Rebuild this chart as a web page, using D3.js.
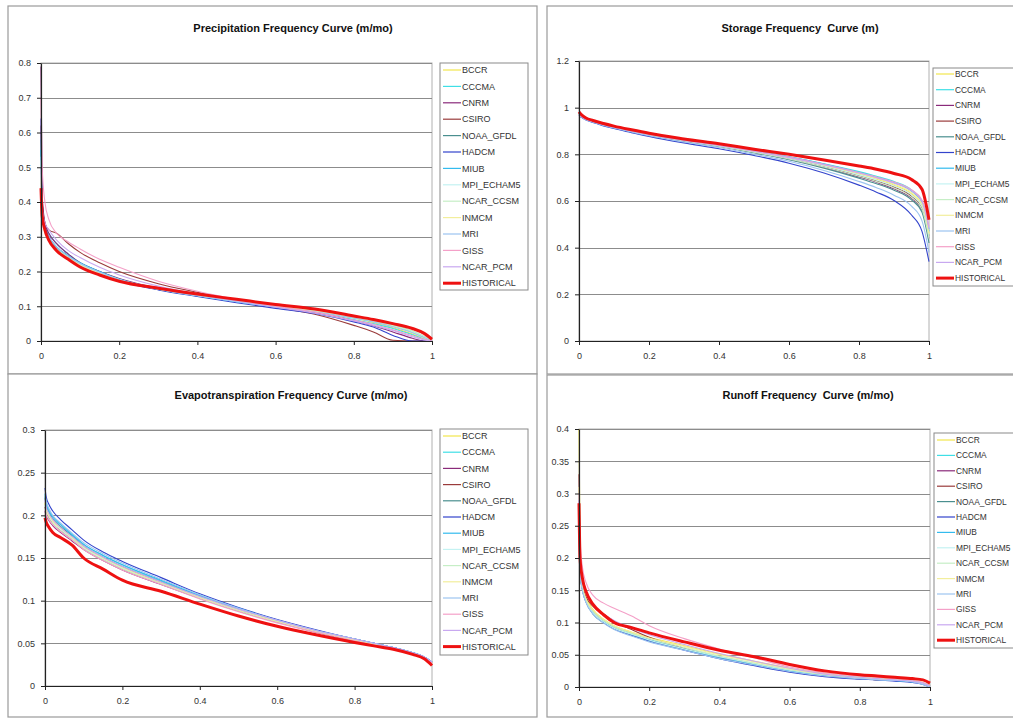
<!DOCTYPE html>
<html>
<head>
<meta charset="utf-8">
<script src="https://cdn.jsdelivr.net/npm/d3@7"></script>
<style>
  body { margin: 0; background: #fff; }
  svg { font-family: "Liberation Sans", Arial, sans-serif; display: block; }
  .title { white-space: pre; }
</style>
</head>
<body>
<svg id="chart" width="1013" height="719"></svg>
<script>
const seriesNames = ["BCCR", "CCCMA", "CNRM", "CSIRO", "NOAA_GFDL", "HADCM", "MIUB",
  "MPI_ECHAM5", "NCAR_CCSM", "INMCM", "MRI", "GISS", "NCAR_PCM", "HISTORICAL"];

const seriesColors = ["#f2e64c", "#3fdfe6", "#8a2a7a", "#9a3b3b", "#4a8f8f", "#3344cc", "#33bbee",
  "#c4f2f2", "#c6eec6", "#f2ee9c", "#9cc4f0", "#f4a0c8", "#c8a8f0", "#ee1111"];

// exceedance probability (x) shared by all curves
const prob = [0, 0.003, 0.01, 0.02, 0.04, 0.07, 0.1, 0.15, 0.2, 0.3, 0.4, 0.5, 0.6, 0.7, 0.8, 0.85, 0.9, 0.95, 0.98, 1];

// one row per series, same order as seriesNames
const precipValues = [
  [0.50, 0.38, 0.33, 0.30, 0.27, 0.24, 0.22, 0.195, 0.175, 0.150, 0.132, 0.116, 0.100, 0.086, 0.066, 0.053, 0.038, 0.020, 0.008, 0],
  [0.58, 0.40, 0.33, 0.31, 0.28, 0.25, 0.225, 0.200, 0.178, 0.150, 0.130, 0.113, 0.097, 0.082, 0.062, 0.050, 0.036, 0.018, 0.006, 0],
  [0.79, 0.42, 0.34, 0.31, 0.28, 0.25, 0.225, 0.200, 0.180, 0.152, 0.133, 0.115, 0.100, 0.083, 0.058, 0.044, 0.026, 0.008, 0, 0],
  [0.62, 0.40, 0.34, 0.32, 0.31, 0.28, 0.255, 0.225, 0.200, 0.165, 0.140, 0.118, 0.097, 0.077, 0.045, 0.026, 0.002, 0, 0, 0],
  [0.55, 0.38, 0.33, 0.30, 0.27, 0.245, 0.220, 0.195, 0.175, 0.148, 0.130, 0.114, 0.099, 0.086, 0.069, 0.059, 0.046, 0.028, 0.012, 0],
  [0.64, 0.40, 0.33, 0.30, 0.265, 0.235, 0.215, 0.192, 0.173, 0.147, 0.128, 0.110, 0.094, 0.079, 0.055, 0.040, 0.016, 0, 0, 0],
  [0.55, 0.38, 0.32, 0.30, 0.27, 0.245, 0.225, 0.200, 0.178, 0.150, 0.130, 0.113, 0.098, 0.085, 0.067, 0.056, 0.043, 0.025, 0.010, 0],
  [0.48, 0.36, 0.32, 0.29, 0.26, 0.24, 0.22, 0.195, 0.176, 0.150, 0.131, 0.115, 0.100, 0.086, 0.068, 0.057, 0.044, 0.027, 0.012, 0],
  [0.52, 0.37, 0.32, 0.295, 0.265, 0.242, 0.222, 0.197, 0.177, 0.150, 0.132, 0.116, 0.101, 0.087, 0.069, 0.058, 0.045, 0.029, 0.014, 0],
  [0.47, 0.36, 0.31, 0.29, 0.262, 0.238, 0.218, 0.194, 0.175, 0.149, 0.131, 0.115, 0.100, 0.086, 0.067, 0.056, 0.042, 0.024, 0.009, 0],
  [0.53, 0.38, 0.32, 0.30, 0.27, 0.244, 0.223, 0.198, 0.177, 0.149, 0.130, 0.113, 0.098, 0.084, 0.066, 0.055, 0.041, 0.024, 0.010, 0],
  [0.70, 0.50, 0.40, 0.35, 0.31, 0.285, 0.265, 0.235, 0.212, 0.172, 0.143, 0.120, 0.100, 0.083, 0.060, 0.048, 0.032, 0.015, 0.005, 0],
  [0.50, 0.38, 0.34, 0.32, 0.29, 0.26, 0.24, 0.212, 0.190, 0.158, 0.135, 0.115, 0.097, 0.080, 0.058, 0.045, 0.030, 0.012, 0.003, 0],
  [0.44, 0.36, 0.32, 0.29, 0.26, 0.235, 0.213, 0.190, 0.172, 0.152, 0.135, 0.120, 0.105, 0.092, 0.072, 0.062, 0.050, 0.036, 0.022, 0.005]
];

const storageValues = [
  [0.975, 0.970, 0.962, 0.952, 0.942, 0.928, 0.917, 0.900, 0.885, 0.860, 0.838, 0.812, 0.785, 0.752, 0.715, 0.693, 0.668, 0.630, 0.580, 0.46],
  [0.978, 0.972, 0.963, 0.953, 0.943, 0.930, 0.918, 0.902, 0.887, 0.862, 0.841, 0.816, 0.790, 0.760, 0.726, 0.706, 0.683, 0.648, 0.600, 0.48],
  [0.970, 0.966, 0.958, 0.949, 0.939, 0.925, 0.914, 0.898, 0.883, 0.857, 0.835, 0.808, 0.779, 0.744, 0.703, 0.680, 0.652, 0.612, 0.560, 0.44],
  [0.975, 0.969, 0.960, 0.950, 0.940, 0.927, 0.916, 0.899, 0.884, 0.858, 0.836, 0.810, 0.782, 0.748, 0.708, 0.686, 0.660, 0.620, 0.570, 0.45],
  [0.972, 0.967, 0.959, 0.950, 0.940, 0.926, 0.915, 0.898, 0.883, 0.857, 0.834, 0.807, 0.777, 0.741, 0.698, 0.674, 0.646, 0.605, 0.552, 0.42],
  [0.968, 0.963, 0.956, 0.947, 0.937, 0.922, 0.911, 0.893, 0.877, 0.849, 0.824, 0.795, 0.762, 0.720, 0.668, 0.638, 0.602, 0.540, 0.470, 0.34],
  [0.976, 0.971, 0.962, 0.952, 0.942, 0.929, 0.918, 0.901, 0.886, 0.861, 0.840, 0.815, 0.789, 0.758, 0.722, 0.702, 0.678, 0.642, 0.594, 0.47],
  [0.974, 0.968, 0.960, 0.951, 0.941, 0.927, 0.916, 0.899, 0.884, 0.859, 0.837, 0.811, 0.783, 0.750, 0.712, 0.690, 0.664, 0.626, 0.576, 0.45],
  [0.973, 0.968, 0.960, 0.950, 0.940, 0.926, 0.915, 0.898, 0.883, 0.858, 0.835, 0.809, 0.780, 0.746, 0.706, 0.683, 0.656, 0.616, 0.564, 0.44],
  [0.975, 0.970, 0.961, 0.951, 0.941, 0.928, 0.917, 0.900, 0.885, 0.860, 0.839, 0.813, 0.786, 0.754, 0.718, 0.697, 0.672, 0.636, 0.588, 0.46],
  [0.970, 0.965, 0.957, 0.948, 0.938, 0.924, 0.913, 0.896, 0.880, 0.853, 0.829, 0.801, 0.770, 0.731, 0.684, 0.657, 0.625, 0.578, 0.515, 0.38],
  [0.977, 0.971, 0.962, 0.952, 0.942, 0.929, 0.918, 0.901, 0.886, 0.861, 0.839, 0.814, 0.788, 0.757, 0.722, 0.703, 0.681, 0.648, 0.604, 0.49],
  [0.976, 0.970, 0.961, 0.951, 0.941, 0.928, 0.917, 0.900, 0.885, 0.860, 0.838, 0.813, 0.786, 0.755, 0.720, 0.700, 0.677, 0.644, 0.598, 0.48],
  [0.982, 0.976, 0.966, 0.956, 0.945, 0.932, 0.921, 0.905, 0.890, 0.866, 0.845, 0.822, 0.800, 0.776, 0.750, 0.736, 0.718, 0.692, 0.650, 0.52]
];

const evapValues = [
  [0.215, 0.208, 0.200, 0.193, 0.185, 0.174, 0.163, 0.150, 0.139, 0.121, 0.104, 0.089, 0.076, 0.064, 0.054, 0.049, 0.044, 0.038, 0.033, 0.027],
  [0.225, 0.216, 0.207, 0.199, 0.190, 0.178, 0.166, 0.153, 0.142, 0.123, 0.106, 0.090, 0.077, 0.065, 0.055, 0.050, 0.045, 0.039, 0.034, 0.028],
  [0.205, 0.200, 0.194, 0.188, 0.180, 0.170, 0.160, 0.147, 0.136, 0.119, 0.103, 0.088, 0.075, 0.064, 0.054, 0.049, 0.044, 0.038, 0.033, 0.027],
  [0.210, 0.204, 0.197, 0.190, 0.182, 0.172, 0.161, 0.148, 0.137, 0.120, 0.103, 0.088, 0.075, 0.063, 0.053, 0.049, 0.044, 0.038, 0.033, 0.027],
  [0.220, 0.212, 0.204, 0.196, 0.187, 0.176, 0.164, 0.151, 0.140, 0.122, 0.105, 0.090, 0.076, 0.065, 0.055, 0.050, 0.045, 0.039, 0.034, 0.028],
  [0.232, 0.222, 0.213, 0.205, 0.195, 0.183, 0.171, 0.157, 0.146, 0.127, 0.108, 0.092, 0.078, 0.066, 0.055, 0.050, 0.045, 0.039, 0.034, 0.028],
  [0.222, 0.214, 0.205, 0.198, 0.189, 0.177, 0.166, 0.153, 0.142, 0.124, 0.106, 0.091, 0.077, 0.065, 0.055, 0.050, 0.045, 0.039, 0.034, 0.028],
  [0.212, 0.206, 0.199, 0.192, 0.184, 0.173, 0.162, 0.149, 0.138, 0.120, 0.104, 0.089, 0.076, 0.064, 0.054, 0.049, 0.044, 0.038, 0.033, 0.027],
  [0.208, 0.202, 0.196, 0.190, 0.182, 0.172, 0.161, 0.148, 0.137, 0.120, 0.103, 0.088, 0.075, 0.064, 0.054, 0.049, 0.044, 0.038, 0.033, 0.027],
  [0.214, 0.207, 0.200, 0.193, 0.185, 0.174, 0.163, 0.150, 0.139, 0.121, 0.104, 0.089, 0.076, 0.064, 0.054, 0.049, 0.044, 0.038, 0.033, 0.027],
  [0.226, 0.217, 0.208, 0.200, 0.191, 0.179, 0.168, 0.155, 0.144, 0.125, 0.107, 0.091, 0.077, 0.065, 0.055, 0.050, 0.045, 0.039, 0.034, 0.028],
  [0.206, 0.201, 0.195, 0.189, 0.181, 0.171, 0.160, 0.147, 0.136, 0.119, 0.102, 0.087, 0.074, 0.063, 0.053, 0.048, 0.044, 0.038, 0.033, 0.027],
  [0.218, 0.210, 0.202, 0.195, 0.186, 0.175, 0.164, 0.151, 0.140, 0.122, 0.105, 0.090, 0.077, 0.065, 0.055, 0.050, 0.045, 0.039, 0.034, 0.028],
  [0.197, 0.192, 0.186, 0.180, 0.174, 0.165, 0.150, 0.137, 0.124, 0.111, 0.096, 0.082, 0.070, 0.060, 0.051, 0.047, 0.043, 0.037, 0.032, 0.024]
];

const runoffValues = [
  [0.400, 0.220, 0.160, 0.140, 0.120, 0.105, 0.095, 0.085, 0.077, 0.064, 0.051, 0.040, 0.029, 0.021, 0.016, 0.014, 0.012, 0.010, 0.007, 0.003],
  [0.300, 0.190, 0.155, 0.135, 0.117, 0.103, 0.093, 0.083, 0.074, 0.060, 0.047, 0.036, 0.025, 0.018, 0.014, 0.012, 0.010, 0.008, 0.005, 0.001],
  [0.290, 0.185, 0.152, 0.134, 0.116, 0.102, 0.092, 0.082, 0.073, 0.059, 0.046, 0.035, 0.024, 0.017, 0.013, 0.011, 0.010, 0.008, 0.005, 0.001],
  [0.330, 0.195, 0.158, 0.140, 0.125, 0.113, 0.102, 0.089, 0.077, 0.060, 0.045, 0.034, 0.024, 0.017, 0.013, 0.011, 0.010, 0.008, 0.005, 0.001],
  [0.270, 0.180, 0.150, 0.132, 0.113, 0.100, 0.091, 0.081, 0.072, 0.058, 0.045, 0.034, 0.024, 0.017, 0.013, 0.011, 0.010, 0.008, 0.005, 0.001],
  [0.250, 0.180, 0.150, 0.132, 0.114, 0.100, 0.090, 0.080, 0.071, 0.057, 0.044, 0.033, 0.023, 0.016, 0.012, 0.011, 0.009, 0.007, 0.004, 0],
  [0.280, 0.185, 0.153, 0.134, 0.116, 0.102, 0.092, 0.082, 0.073, 0.059, 0.046, 0.035, 0.025, 0.018, 0.014, 0.012, 0.010, 0.008, 0.005, 0.001],
  [0.260, 0.182, 0.151, 0.133, 0.115, 0.101, 0.091, 0.082, 0.073, 0.059, 0.047, 0.036, 0.026, 0.019, 0.014, 0.012, 0.011, 0.009, 0.006, 0.002],
  [0.270, 0.184, 0.153, 0.135, 0.117, 0.103, 0.093, 0.083, 0.075, 0.061, 0.048, 0.037, 0.027, 0.019, 0.015, 0.013, 0.011, 0.009, 0.006, 0.002],
  [0.310, 0.190, 0.156, 0.137, 0.119, 0.105, 0.095, 0.085, 0.076, 0.063, 0.050, 0.039, 0.028, 0.020, 0.015, 0.013, 0.011, 0.009, 0.006, 0.002],
  [0.260, 0.180, 0.150, 0.131, 0.113, 0.099, 0.089, 0.079, 0.070, 0.057, 0.044, 0.034, 0.024, 0.017, 0.013, 0.011, 0.010, 0.008, 0.004, 0],
  [0.300, 0.230, 0.185, 0.162, 0.142, 0.130, 0.122, 0.110, 0.095, 0.075, 0.059, 0.045, 0.031, 0.022, 0.017, 0.015, 0.013, 0.010, 0.007, 0.002],
  [0.290, 0.200, 0.165, 0.145, 0.127, 0.113, 0.103, 0.091, 0.081, 0.066, 0.052, 0.040, 0.029, 0.020, 0.015, 0.013, 0.011, 0.009, 0.006, 0.002],
  [0.285, 0.200, 0.168, 0.148, 0.128, 0.112, 0.100, 0.092, 0.084, 0.070, 0.057, 0.047, 0.035, 0.025, 0.019, 0.017, 0.015, 0.013, 0.011, 0.006]
];

const panels = [
  { title: "Precipitation Frequency Curve (m/mo)", values: precipValues, yMax: 0.8, yStep: 0.1,
    box: [8, 6, 529, 368], titlePos: [293, 32], plot: [41, 63, 432, 341],
    legend: [440, 63, 88, 227], legendRow0: 70, legendStep: 16.4, legendFont: 9 },
  { title: "Storage Frequency  Curve (m)", values: storageValues, yMax: 1.2, yStep: 0.2,
    box: [547, 6, 480, 368], titlePos: [800, 32], plot: [579, 61, 929, 341],
    legend: [933, 68, 90, 218], legendRow0: 74, legendStep: 15.7, legendFont: 8.4 },
  { title: "Evapotranspiration Frequency Curve (m/mo)", values: evapValues, yMax: 0.3, yStep: 0.05,
    box: [8, 374, 529, 343], titlePos: [291, 399], plot: [45, 430, 432, 686],
    legend: [440, 429, 88, 226], legendRow0: 436, legendStep: 16.2, legendFont: 9 },
  { title: "Runoff Frequency  Curve (m/mo)", values: runoffValues, yMax: 0.4, yStep: 0.05,
    box: [547, 375, 480, 342], titlePos: [808, 399], plot: [579, 429, 930, 687],
    legend: [934, 433, 90, 215], legendRow0: 440, legendStep: 15.4, legendFont: 8.4 }
];

const svg = d3.select("#chart");
const fmt = (d) => String(+d.toFixed(2));

panels.forEach((p) => {
  const g = svg.append("g");

  g.append("rect")
    .attr("x", p.box[0]).attr("y", p.box[1])
    .attr("width", p.box[2]).attr("height", p.box[3])
    .attr("fill", "#fff").attr("stroke", "#9a9a9a").attr("stroke-width", 1.2);

  g.append("text")
    .attr("class", "title")
    .attr("x", p.titlePos[0]).attr("y", p.titlePos[1])
    .attr("text-anchor", "middle")
    .attr("font-size", 11).attr("font-weight", "bold").attr("fill", "#111")
    .text(p.title);

  const [l, t, r, b] = p.plot;
  const x = d3.scaleLinear().domain([0, 1]).range([l, r]);
  const y = d3.scaleLinear().domain([0, p.yMax]).range([b, t]);
  const yTicks = d3.range(0, p.yMax + p.yStep / 2, p.yStep);

  // plot area border
  g.append("rect")
    .attr("x", l).attr("y", t).attr("width", r - l).attr("height", b - t)
    .attr("fill", "none").attr("stroke", "#b0b0b0");

  // gridlines
  g.append("g")
    .selectAll("line")
    .data(yTicks.filter((d) => d > 0))
    .join("line")
    .attr("x1", l).attr("x2", r)
    .attr("y1", (d) => Math.round(y(d)) + 0.5).attr("y2", (d) => Math.round(y(d)) + 0.5)
    .attr("stroke", "#8c8c8c");

  // curves
  const line = d3.line()
    .x((d) => x(d[0]))
    .y((d) => y(d[1]))
    .curve(d3.curveMonotoneX);

  p.values.forEach((vals, i) => {
    const hist = seriesNames[i] === "HISTORICAL";
    g.append("path")
      .datum(prob.map((pr, k) => [pr, vals[k]]))
      .attr("d", line)
      .attr("fill", "none")
      .attr("stroke", seriesColors[i])
      .attr("stroke-width", hist ? 3 : 1.1)
      .attr("stroke-linejoin", "round");
  });

  // axes
  const yAxis = g.append("g")
    .attr("transform", `translate(${l},0)`)
    .call(d3.axisLeft(y).tickValues(yTicks).tickFormat(fmt).tickSize(4).tickSizeOuter(0).tickPadding(6));
  const xAxis = g.append("g")
    .attr("transform", `translate(0,${b})`)
    .call(d3.axisBottom(x).tickValues([0, 0.2, 0.4, 0.6, 0.8, 1]).tickFormat(fmt).tickSize(4).tickSizeOuter(0).tickPadding(8));

  [yAxis, xAxis].forEach((ax) => {
    ax.select(".domain").attr("stroke", "#222").attr("stroke-width", 1.2);
    ax.selectAll(".tick line").attr("stroke", "#222");
    ax.selectAll(".tick text")
      .attr("font-size", 9)
      .attr("font-family", "Liberation Sans, Arial, sans-serif")
      .attr("fill", "#333");
  });

  // legend
  const [lx, ly, lw, lh] = p.legend;
  g.append("rect")
    .attr("x", lx).attr("y", ly).attr("width", lw).attr("height", lh)
    .attr("fill", "#fff").attr("stroke", "#8a8a8a");

  const items = g.append("g")
    .selectAll("g")
    .data(seriesNames)
    .join("g")
    .attr("transform", (d, i) => `translate(${lx + 3},${p.legendRow0 + i * p.legendStep})`);

  items.append("line")
    .attr("x1", 0).attr("x2", 18)
    .attr("stroke", (d, i) => seriesColors[i])
    .attr("stroke-width", (d) => (d === "HISTORICAL" ? 3 : 1.2));

  items.append("text")
    .attr("x", 19).attr("dy", "0.35em")
    .attr("font-size", p.legendFont).attr("fill", "#333")
    .text((d) => d);
});
</script>
</body>
</html>
